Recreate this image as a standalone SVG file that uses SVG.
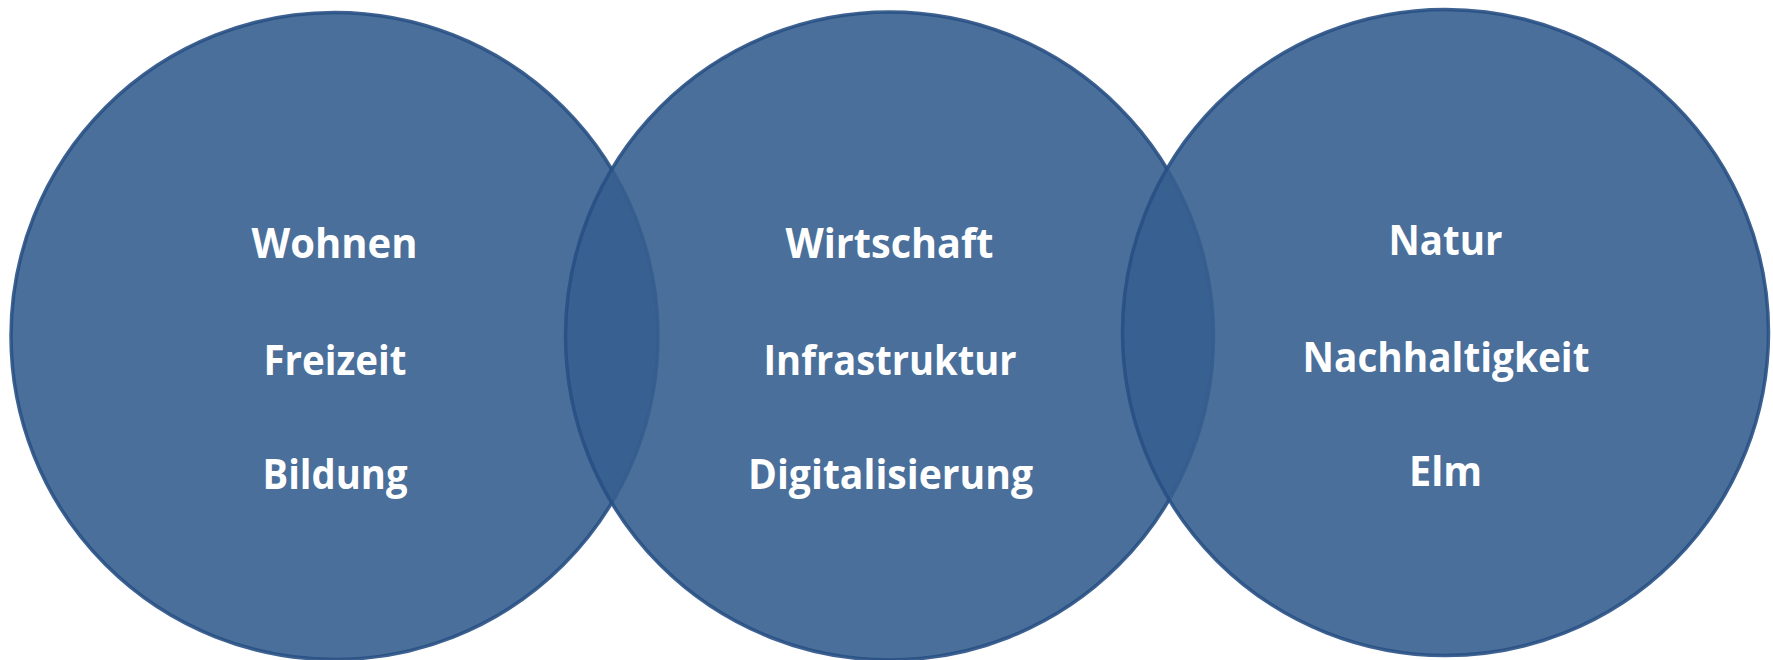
<svg xmlns="http://www.w3.org/2000/svg" width="1773" height="660" viewBox="0 0 1773 660">
<style>
.c{fill:#365F90;fill-opacity:.9;stroke:#285084;stroke-opacity:.9;stroke-width:3.5}
.t{font-family:"Open Sans",Lato,"Liberation Sans",sans-serif;font-weight:700;font-size:41px;fill:#ffffff}
</style>
<rect width="1773" height="660" fill="#ffffff"/>
<g id="circle-left">
<circle class="c" cx="334.5" cy="336" r="323.5"/>
</g>
<g id="circle-middle">
<circle class="c" cx="889.5" cy="336" r="324"/>
</g>
<g id="circle-right">
<circle class="c" cx="1445.5" cy="332.5" r="323"/>
</g>
<g id="labels-left">
<text class="t" x="251.5" y="258" textLength="166" lengthAdjust="spacingAndGlyphs">Wohnen</text>
<text class="t" x="263.5" y="375" textLength="143" lengthAdjust="spacingAndGlyphs">Freizeit</text>
<text class="t" x="262.5" y="489" textLength="145" lengthAdjust="spacingAndGlyphs">Bildung</text>
</g>
<g id="labels-middle">
<text class="t" x="785.5" y="258" textLength="208" lengthAdjust="spacingAndGlyphs">Wirtschaft</text>
<text class="t" x="763.5" y="375" textLength="253" lengthAdjust="spacingAndGlyphs">Infrastruktur</text>
<text class="t" x="748" y="489" textLength="285" lengthAdjust="spacingAndGlyphs">Digitalisierung</text>
</g>
<g id="labels-right">
<text class="t" x="1388.5" y="255" textLength="114" lengthAdjust="spacingAndGlyphs">Natur</text>
<text class="t" x="1302.5" y="372" textLength="287" lengthAdjust="spacingAndGlyphs">Nachhaltigkeit</text>
<text class="t" x="1409" y="486" textLength="73" lengthAdjust="spacingAndGlyphs">Elm</text>
</g>
</svg>
